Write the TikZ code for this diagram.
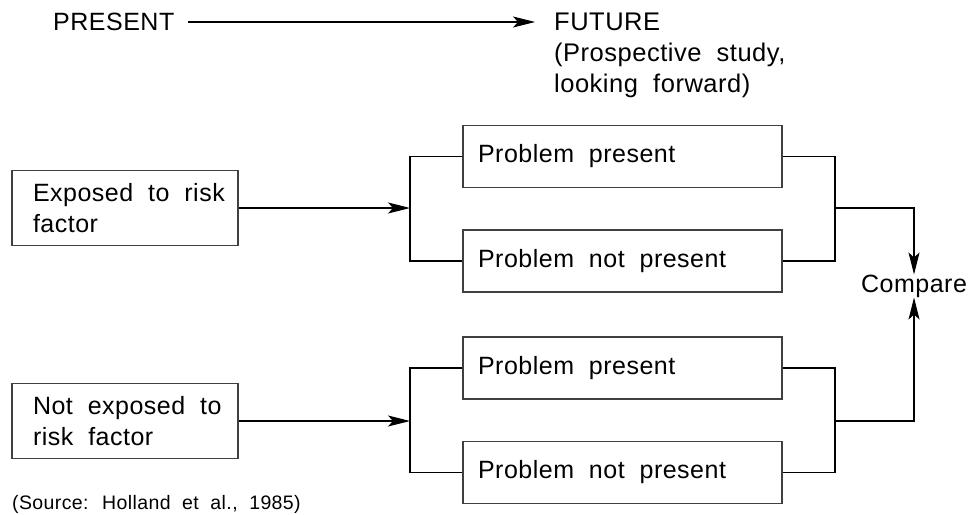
\documentclass[tikz,border=0pt]{standalone}
\usepackage{fontspec}
\setmainfont{Liberation Sans}[LetterSpace=2,WordSpace=2]
\usetikzlibrary{arrows.meta,calc}
\tikzset{
  tip/.style={-{Stealth[length=22pt,width=11pt,inset=5pt]}},
  box/.style={draw=black!75,line width=1.1pt,rectangle,align=left,inner ysep=0pt,
    execute at begin node={\spaceskip=0pt\relax}},
  lbox/.style={box,minimum width=226pt,minimum height=75pt,text width=184pt,inner xsep=21pt},
  pbox/.style={box,minimum width=319pt,minimum height=62pt,text width=289pt,inner xsep=15pt},
  conn/.style={line width=1.1pt,black},
  lbl/.style={inner sep=0pt,align=left}
}
\begin{document}
\begin{tikzpicture}[x=1pt,y=-1pt,font=\fontsize{25}{31}\selectfont]
\useasboundingbox (0,0) rectangle (973,514);
% header
\node[lbl,anchor=west] (present) at (53,22) {PRESENT};
\node[lbl,anchor=north west,font=\fontsize{25.5}{31}\selectfont] (future) at (554,13) {FUTURE\\(Prospective study,\\looking forward)};
\draw[conn,tip,shorten <=14pt,shorten >=19pt] (present.east) -- (present.east -| future.west);
% upper group
\node[lbox] (exA) at (125,208) {\mbox{Exposed to risk}\\factor};
\node[pbox] (p1) at (622.5,156.5) {Problem present};
\node[pbox] (np1) at (622.5,261) {Problem not present};
\coordinate (l1) at (410,208);
\coordinate (r1) at (835,208);
\draw[conn,tip] (exA.east) -- (l1);
\draw[conn] (p1.west) -| (l1) |- (np1.west);
\draw[conn] (p1.east) -| (r1) |- (np1.east);
% lower group
\node[lbox] (exB) at (125,421) {\mbox{Not exposed to}\\risk factor};
\node[pbox] (p2) at (622.5,368) {Problem present};
\node[pbox] (np2) at (622.5,472.5) {Problem not present};
\coordinate (l2) at (410,421);
\coordinate (r2) at (835,421);
\draw[conn,tip] (exB.east) -- (l2);
\draw[conn] (p2.west) -| (l2) |- (np2.west);
\draw[conn] (p2.east) -| (r2) |- (np2.east);
% compare
\node[lbl] (cmp) at (914,286) {Compare};
\draw[conn,tip] (r1) -| (cmp.north);
\draw[conn,tip] (r2) -| (cmp.south);
% source
\node[lbl,anchor=west,font=\fontsize{19.5}{24}\selectfont] (src) at (12,504) {(Source: Holland et al., 1985)};
\end{tikzpicture}
\end{document}
